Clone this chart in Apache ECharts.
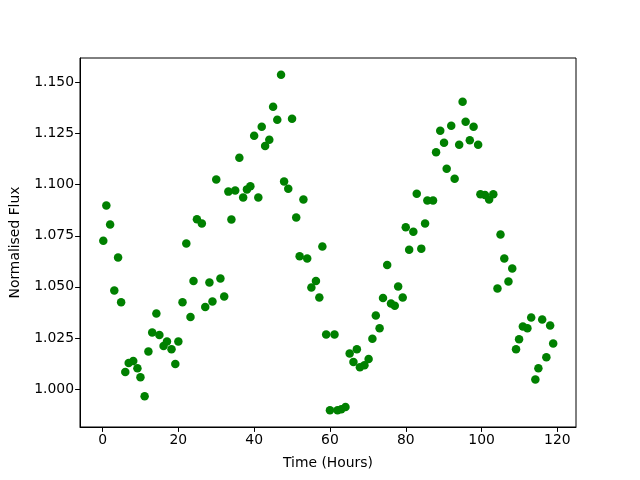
<!DOCTYPE html>
<html>
<head>
<meta charset="utf-8">
<script src="https://cdn.jsdelivr.net/npm/echarts@6/dist/echarts.min.js"></script>
<style>
  html, body { margin: 0; padding: 0; background: #fff; }
  #main { width: 640px; height: 480px; }
</style>
</head>
<body>
<div id="main"></div>
<script>
// time of each observation (hours)
const timeHours = [
  0.2, 1.0, 2.0, 3.1, 4.1, 4.9, 6.0, 6.9, 8.1, 9.2,
  10.0, 11.1, 12.1, 13.1, 14.2, 15.0, 16.1, 17.0, 18.2, 19.2,
  20.0, 21.1, 22.1, 23.2, 24.0, 24.9, 26.2, 27.1, 28.2, 29.0,
  30.0, 31.1, 32.1, 33.2, 34.0, 35.0, 36.1, 37.1, 38.1, 39.0,
  40.0, 41.1, 42.0, 42.9, 44.0, 45.0, 46.1, 47.1, 47.9, 49.0,
  50.0, 51.1, 52.0, 53.0, 54.0, 55.1, 56.3, 57.2, 58.0, 59.0,
  60.0, 61.2, 62.0, 63.0, 64.1, 65.2, 66.2, 67.1, 67.9, 69.1,
  70.2, 71.2, 72.1, 73.1, 74.0, 75.1, 76.1, 77.1, 78.0, 79.2,
  80.0, 80.9, 82.0, 82.9, 84.1, 85.1, 85.7, 87.2, 88.0, 89.1,
  90.1, 90.8, 92.0, 92.9, 94.1, 95.0, 95.8, 96.9, 97.9, 99.1,
  99.7, 100.9, 102.0, 103.1, 104.2, 105.0, 106.0, 107.1, 108.1, 109.1,
  109.9, 110.9, 112.1, 113.1, 114.2, 115.0, 116.0, 117.1, 118.1, 118.9
];
// normalised flux
const flux = [
  1.0726, 1.0898, 1.0805, 1.0482, 1.0643, 1.0424, 1.0083, 1.0127, 1.0137, 1.0101,
  1.0057, 0.9964, 1.0184, 1.0277, 1.0370, 1.0264, 1.0210, 1.0233, 1.0194, 1.0122,
  1.0233, 1.0424, 1.0712, 1.0352, 1.0528, 1.0831, 1.0810, 1.0401, 1.0521, 1.0428,
  1.1025, 1.0541, 1.0453, 1.0966, 1.0829, 1.0971, 1.1132, 1.0937, 1.0977, 1.0992,
  1.1240, 1.0937, 1.1284, 1.1189, 1.1220, 1.1381, 1.1318, 1.1538, 1.1016, 1.0980,
  1.1323, 1.0839, 1.0650, 1.0927, 1.0639, 1.0497, 1.0528, 1.0448, 1.0697, 1.0267,
  0.9896, 1.0267, 0.9896, 0.9901, 0.9912, 1.0174, 1.0132, 1.0194, 1.0107, 1.0116,
  1.0147, 1.0246, 1.0360, 1.0297, 1.0445, 1.0607, 1.0419, 1.0407, 1.0502, 1.0448,
  1.0792, 1.0682, 1.0770, 1.0956, 1.0687, 1.0810, 1.0922, 1.0922, 1.1159, 1.1264,
  1.1205, 1.1078, 1.1288, 1.1029, 1.1196, 1.1406, 1.1308, 1.1217, 1.1284, 1.1196,
  1.0953, 1.0950, 1.0927, 1.0953, 1.0492, 1.0756, 1.0639, 1.0526, 1.0590, 1.0194,
  1.0243, 1.0306, 1.0297, 1.0350, 1.0047, 1.0101, 1.0340, 1.0155, 1.0311, 1.0223
];
const xTicks = [0, 20, 40, 60, 80, 100, 120];
const yTicks = [1.000, 1.025, 1.050, 1.075, 1.100, 1.125, 1.150];

const points = timeHours.map((t, i) => [t, flux[i]]);

const chart = echarts.init(document.getElementById('main'), null, {renderer: 'canvas'});
const font = 'DejaVu Sans';

chart.setOption({
  animation: false,
  backgroundColor: '#fff',
  grid: {
    left: 80, right: 64, top: 58, bottom: 53,
    show: true, borderColor: '#000', borderWidth: 1, backgroundColor: 'transparent'
  },
  xAxis: {
    type: 'value',
    min: -5.95, max: 124.92,
    name: 'Time (Hours)',
    nameLocation: 'middle',
    nameGap: 29,
    nameTextStyle: {color: '#000', fontFamily: font, fontSize: 13.9},
    axisLine: {show: true, onZero: false, lineStyle: {color: '#000', width: 1}},
    axisTick: {show: true, customValues: xTicks, length: 4.9, lineStyle: {color: '#000'}},
    axisLabel: {customValues: xTicks, color: '#000', fontFamily: font, fontSize: 13.9, margin: 6},
    splitLine: {show: false}
  },
  yAxis: {
    type: 'value',
    min: 0.9814, max: 1.1620,
    name: 'Normalised Flux',
    nameLocation: 'middle',
    nameGap: 58,
    nameTextStyle: {color: '#000', fontFamily: font, fontSize: 13.9},
    axisLine: {show: true, onZero: false, lineStyle: {color: '#000', width: 1}},
    axisTick: {show: true, customValues: yTicks, length: 4.9, lineStyle: {color: '#000'}},
    axisLabel: {
      customValues: yTicks, color: '#000', fontFamily: font, fontSize: 13.9, margin: 6,
      formatter: v => v.toFixed(3)
    },
    splitLine: {show: false}
  },
  series: [{
    type: 'scatter',
    data: points,
    symbolSize: 8.5,
    itemStyle: {color: '#008000', opacity: 1},
    silent: true
  }]
});
</script>
</body>
</html>
